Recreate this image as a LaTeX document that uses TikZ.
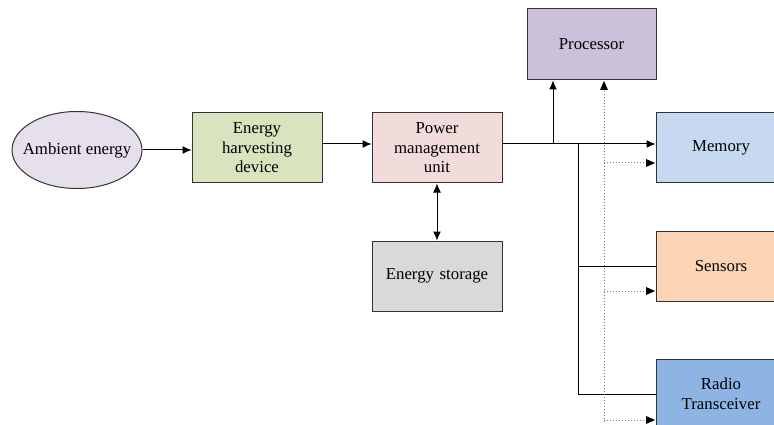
\documentclass[tikz,border=0pt]{standalone}
\usepackage{fontspec}
\setmainfont{Liberation Serif}
\usetikzlibrary{arrows.meta,shapes.geometric}
\definecolor{cEll}{HTML}{E6E0EC}
\definecolor{cHarv}{HTML}{D7E4BD}
\definecolor{cPmu}{HTML}{F2DCDB}
\definecolor{cProc}{HTML}{CCC1DA}
\definecolor{cMem}{HTML}{C6D9F1}
\definecolor{cSens}{HTML}{FBD5B5}
\definecolor{cRadio}{HTML}{8EB4E3}
\definecolor{cStor}{HTML}{D9D9D9}
\definecolor{cEdge}{HTML}{333333}
\tikzset{
  box/.style={draw=cEdge, line width=1pt, minimum width=130pt, minimum height=70pt, inner sep=0pt, align=center, text width=125pt, font=\fontsize{16.8}{19.5}\selectfont},
  ell/.style={draw=cEdge, line width=1pt, ellipse, minimum width=130pt, minimum height=77pt, inner sep=0pt, fill=cEll, font=\fontsize{16.8}{19.5}\selectfont},
  arr/.style={-{Latex[length=9pt,width=8pt]}, line width=1pt},
  darr/.style={{Latex[length=9pt,width=8pt]}-{Latex[length=9pt,width=8pt]}, line width=1pt},
  ln/.style={line width=1pt},
  dotln/.style={draw=gray, line width=1pt, dash pattern=on 1pt off 2pt}
}
\begin{document}
\begin{tikzpicture}[x=1pt,y=-1pt]
\useasboundingbox (0,0) rectangle (774,425);
\clip (0,0) rectangle (774,425);
\fill[white] (0,0) rectangle (774,425);
\node[ell] (amb) at (77,150) {\makebox[0pt]{Ambient energy}};
\node[box, fill=cHarv] (harv) at (257,148) {Energy\\harvesting\\device};
\node[box, fill=cPmu] (pmu) at (437,148) {Power\\management\\unit};
\node[box, fill=cStor] (stor) at (437,276) {Energy storage};
\node[box, fill=cProc, minimum width=129pt, minimum height=71pt] (proc) at (591.5,44.5) {Processor};
\node[box, fill=cMem] (mem) at (721,148) {Memory};
\node[box, fill=cSens] (sens) at (721,266) {Sensors};
\node[box, fill=cRadio] (radio) at (721,394) {Radio\\Transceiver};
% solid connectors
\draw[arr] (amb.east) -- (harv.west |- amb.east);
\draw[arr] ([yshift=4pt]harv.east) -- ([yshift=4pt]pmu.west);
\draw[arr] ([yshift=4pt]pmu.east) -- ([yshift=4pt]mem.west);
\draw[darr] (pmu.south) -- (stor.north);
\coordinate (b1) at (553,144);
\coordinate (b2) at (578,144);
\draw[arr] (b1) -- (b1 |- proc.south);
\draw[ln] (b2) |- (radio.west);
\draw[ln] (b2 |- sens.west) -- (sens.west);
% dotted connectors
\coordinate (d0) at (604,422);
\draw[dotln] (d0) -- ([yshift=-8pt]d0 |- proc.south);
\draw[dotln] ([yshift=-15pt]mem.west -| d0) -- ([yshift=-15pt,xshift=-8pt]mem.west);
\draw[dotln] ([yshift=-25pt]sens.west -| d0) -- ([yshift=-25pt,xshift=-8pt]sens.west);
\draw[dotln] ([yshift=-26pt]radio.west -| d0) -- ([yshift=-26pt,xshift=-8pt]radio.west);
\fill[black] ([yshift=-0.5pt]d0 |- proc.south) -- ++(-4,9) -- ++(8,0) -- cycle;
\fill[black] ([yshift=-15pt,xshift=-0.5pt]mem.west) -- ++(-9,-4) -- ++(0,8) -- cycle;
\fill[black] ([yshift=-25pt,xshift=-0.5pt]sens.west) -- ++(-9,-4) -- ++(0,8) -- cycle;
\fill[black] ([yshift=-26pt,xshift=-0.5pt]radio.west) -- ++(-9,-4) -- ++(0,8) -- cycle;
\end{tikzpicture}
\end{document}
